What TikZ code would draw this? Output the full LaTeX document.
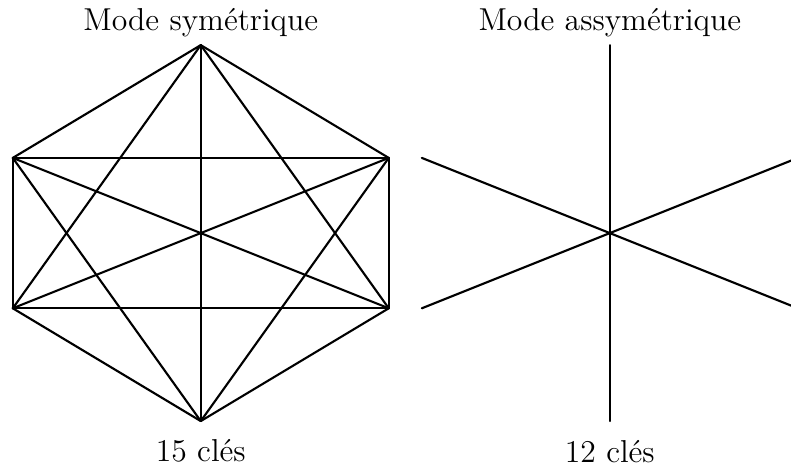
\documentclass[tikz,border=0pt]{standalone}
\usepackage{tikz}
\usetikzlibrary{positioning,calc}

\begin{document}
\begin{tikzpicture}[
    every node/.style={align=center},
    caption/.style={font=\large, inner sep=0pt},
    link/.style={line width=0.8pt, line cap=round}
]
\clip (-2.67,-3.1) rectangle (7.85,3.1);

% Symmetric mode - hexagon of 6 parties
\coordinate (top) at (0,2.5);
\coordinate (upleft) at (-2.5,1);
\coordinate (upright) at (2.5,1);
\coordinate (lowleft) at (-2.5,-1);
\coordinate (lowright) at (2.5,-1);
\coordinate (bottom) at (0,-2.5);

% Asymmetric mode - star around a hub
\coordinate (hub) at (5.44,0);
\coordinate (stop) at ($(hub)+(0,2.5)$);
\coordinate (supleft) at ($(hub)+(-2.5,1)$);
\coordinate (supright) at ($(hub)+(2.5,1)$);
\coordinate (slowleft) at ($(hub)+(-2.5,-1)$);
\coordinate (slowright) at ($(hub)+(2.5,-1)$);
\coordinate (sbottom) at ($(hub)+(0,-2.5)$);

% Titles
\node[caption] (symtitle) at (0,2.8) {Mode symétrique};
\node[caption] (asymtitle) at (5.44,2.8) {Mode assymétrique};
\node[caption] (symcount) at (0,-2.9) {15 clés};
\node[caption] (asymcount) at (5.44,-2.9) {12 clés};

% Keys between every pair
\draw[link] (top) -- (upleft);
\draw[link] (top) -- (upright);
\draw[link] (top) -- (lowleft);
\draw[link] (top) -- (lowright);
\draw[link] (top) -- (bottom);
\draw[link] (upleft) -- (upright);
\draw[link] (upleft) -- (lowleft);
\draw[link] (upleft) -- (lowright);
\draw[link] (upleft) -- (bottom);
\draw[link] (upright) -- (lowleft);
\draw[link] (upright) -- (lowright);
\draw[link] (upright) -- (bottom);
\draw[link] (lowleft) -- (lowright);
\draw[link] (lowleft) -- (bottom);
\draw[link] (lowright) -- (bottom);

% Keys through the hub
\draw[link] (hub) -- (stop);
\draw[link] (hub) -- (supleft);
\draw[link] (hub) -- (supright);
\draw[link] (hub) -- (slowleft);
\draw[link] (hub) -- (slowright);
\draw[link] (hub) -- (sbottom);

\end{tikzpicture}
\end{document}
